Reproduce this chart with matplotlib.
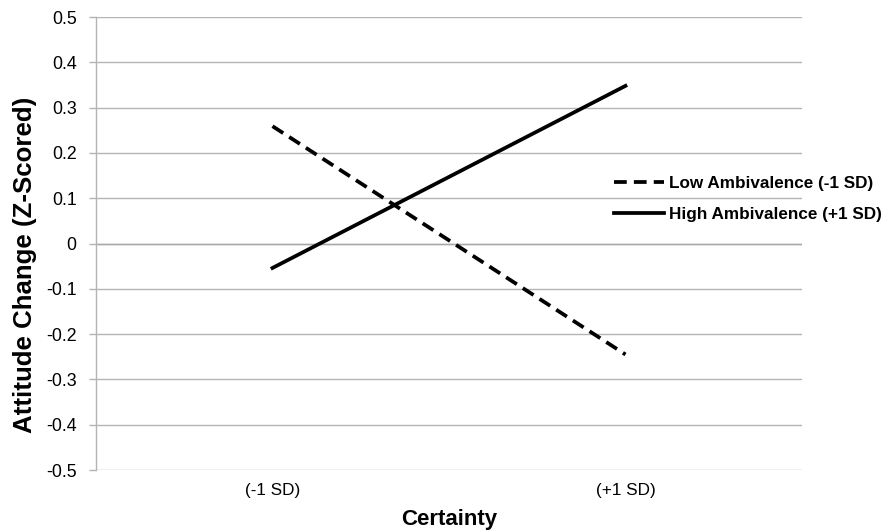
import matplotlib.pyplot as plt

# Values
categories = ['(-1 SD)', '(+1 SD)']
low_ambivalence = [0.259, -0.245]
high_ambivalence = [-0.054, 0.348]
y_ticks = [-0.5, -0.4, -0.3, -0.2, -0.1, 0, 0.1, 0.2, 0.3, 0.4, 0.5]
y_tick_labels = ['-0.5', '-0.4', '-0.3', '-0.2', '-0.1', '0', '0.1', '0.2', '0.3', '0.4', '0.5']

plt.rcParams['font.family'] = ['Liberation Sans', 'DejaVu Sans']

fig = plt.figure(figsize=(8.84, 5.30), dpi=100)
ax = fig.add_axes([0.1086, 0.1132, 0.7986, 0.8547])

x = list(range(len(categories)))
ax.plot(x, low_ambivalence, color='black', linewidth=2.7, linestyle=(0, (3.4, 1.9)),
        label='Low Ambivalence (-1 SD)')
ax.plot(x, high_ambivalence, color='black', linewidth=2.7, label='High Ambivalence (+1 SD)')

ax.set_xlim(-0.5, 1.5)
ax.set_ylim(-0.5, 0.5)
ax.set_xticks(x)
ax.set_xticklabels(categories, fontsize=12.3)
ax.set_yticks(y_ticks)
ax.set_yticklabels(y_tick_labels, fontsize=12.8)

grid_color = '#b4b4b4'
ax.grid(axis='y', color=grid_color, linewidth=1.0)
ax.set_axisbelow(True)
for side in ['top', 'right', 'bottom']:
    ax.spines[side].set_visible(False)
ax.spines['left'].set_color(grid_color)
ax.spines['left'].set_linewidth(1.0)
ax.tick_params(axis='y', length=5, color=grid_color, width=1.0, pad=9)
ax.tick_params(axis='x', length=0, pad=9)
# zero line acts as the category axis
ax.axhline(0, color='#a8a8a8', linewidth=1.0, zorder=1)

ax.set_xlabel('Certainty', fontsize=16, fontweight='bold', labelpad=8)
ax.set_ylabel('Attitude Change (Z-Scored)', fontsize=18.6, fontweight='bold')
ax.yaxis.set_label_coords(-0.084, 0.453)

fig.legend(loc='center left', bbox_to_anchor=(0.695, 0.625), frameon=False,
           prop={'weight': 'bold', 'size': 12.3}, handlelength=2.9, handletextpad=0.3,
           borderpad=0, borderaxespad=0, labelspacing=0.95)

plt.savefig('out.png', dpi=100)
